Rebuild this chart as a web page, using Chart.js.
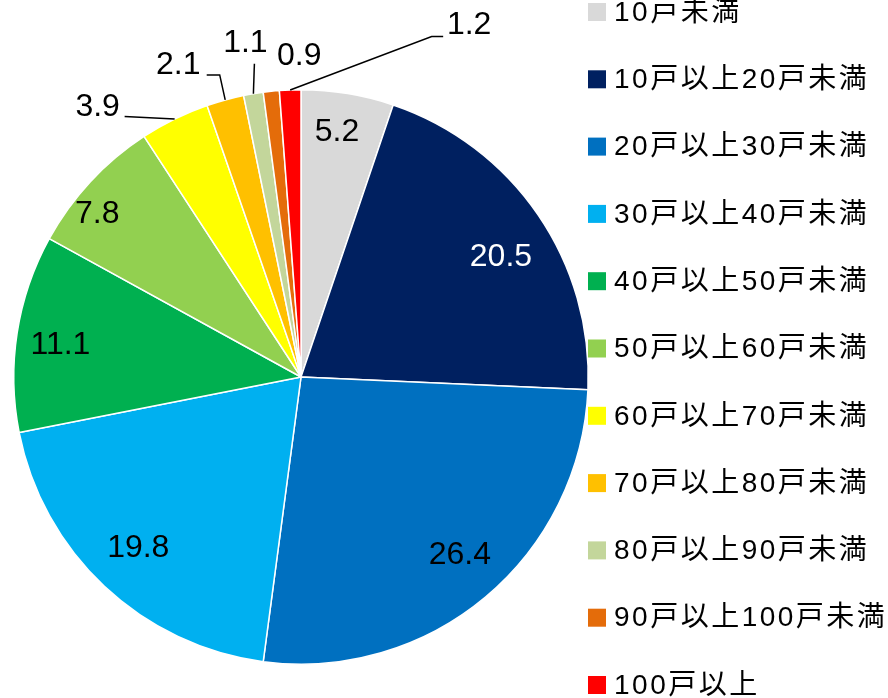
<!DOCTYPE html>
<html>
<head>
<meta charset="utf-8">
<script src="https://cdn.jsdelivr.net/npm/chart.js@4.4.1/dist/chart.umd.min.js"></script>
<style>
  html, body { margin: 0; padding: 0; background: #fff; }
  #wrap { width: 888px; height: 698px; position: relative; }
</style>
</head>
<body>
<div id="wrap"><canvas id="pie-chart"></canvas></div>
<script>
// categories (clockwise from 12 o'clock)
const categories = ['10戸未満', '10戸以上20戸未満', '20戸以上30戸未満', '30戸以上40戸未満', '40戸以上50戸未満',
  '50戸以上60戸未満', '60戸以上70戸未満', '70戸以上80戸未満', '80戸以上90戸未満', '90戸以上100戸未満', '100戸以上'];
// share (%)
const shares = [5.2, 20.5, 26.4, 19.8, 11.1, 7.8, 3.9, 2.1, 1.1, 0.9, 1.2];
const colors = ['#D9D9D9', '#002060', '#0070C0', '#00B0F0', '#00B050', '#92D050',
  '#FFFF00', '#FFC000', '#C3D69B', '#E46C0A', '#FF0000'];
const labelColors = ['#000', '#fff', '#000', '#000', '#000', '#000', '#000', '#000', '#000', '#000', '#000'];

// label placement: inside -> radius factor + angle nudge (deg),
// outside -> offsets from the slice edge point (label centre + leader knees)
const labelLayout = [
  { r: 0.862, da: -1.0 },
  { r: 0.811, da: 3.5 },
  { r: 0.83, da: -1.8 },
  { r: 0.823, da: 0.3 },
  { r: 0.845, da: -1.2 },
  { r: 0.908, da: -4.2 },
  { out: [-77, -12], lead: [[-50, -2.5]] },
  { out: [-47, -35], lead: [[-5.5, -25], [-18.5, -25]] },
  { out: [-8, -51], lead: [[1, -30]] },
  { out: [28, -35], lead: [] },
  { out: [179, -65], lead: [[141.5, -53.5], [153, -53.5]] }
];

const labelFont = '32px "Liberation Sans", Arial, sans-serif';

const sliceLabels = {
  id: 'sliceLabels',
  afterDatasetsDraw(chart) {
    const ctx = chart.ctx;
    const meta = chart.getDatasetMeta(0);
    ctx.save();
    ctx.font = labelFont;
    ctx.textAlign = 'center';
    ctx.textBaseline = 'middle';
    meta.data.forEach((arc, i) => {
      const p = arc.getProps(['x', 'y', 'startAngle', 'endAngle', 'outerRadius'], true);
      const mid = (p.startAngle + p.endAngle) / 2;
      const lay = labelLayout[i];
      const txt = shares[i].toFixed(1);
      if (lay.out) {
        const ex = p.x + Math.cos(mid) * p.outerRadius;
        const ey = p.y + Math.sin(mid) * p.outerRadius;
        if (lay.lead.length) {
          ctx.beginPath();
          ctx.moveTo(ex, ey);
          lay.lead.forEach(k => ctx.lineTo(ex + k[0], ey + k[1]));
          ctx.strokeStyle = '#000';
          ctx.lineWidth = 1.5;
          ctx.stroke();
        }
        ctx.fillStyle = '#000';
        ctx.fillText(txt, ex + lay.out[0], ey + lay.out[1]);
      } else {
        const a = mid + lay.da * Math.PI / 180;
        const rr = p.outerRadius * lay.r;
        ctx.fillStyle = labelColors[i];
        ctx.fillText(txt, p.x + Math.cos(a) * rr, p.y + Math.sin(a) * rr);
      }
    });
    ctx.restore();
  }
};

// legend drawn by hand - 11 rows don't fit the built-in legend at this spacing
const sideLegend = {
  id: 'sideLegend',
  afterDraw(chart) {
    const ctx = chart.ctx;
    const ds = chart.data.datasets[0];
    ctx.save();
    ctx.font = '28px "Liberation Sans", "Noto Sans CJK JP", sans-serif';
    ctx.textAlign = 'left';
    ctx.textBaseline = 'middle';
    if ('letterSpacing' in ctx) ctx.letterSpacing = '2.5px';
    chart.data.labels.forEach((lab, i) => {
      const cy = 12 + i * 67.3;
      ctx.fillStyle = ds.backgroundColor[i];
      ctx.fillRect(588, cy - 9, 18, 18);
      ctx.fillStyle = '#000';
      ctx.fillText(lab, 614, cy + 1);
    });
    ctx.restore();
  }
};

new Chart(document.getElementById('pie-chart'), {
  type: 'pie',
  data: {
    labels: categories,
    datasets: [{
      data: shares,
      backgroundColor: colors,
      borderColor: '#fff',
      borderWidth: 1.5,
      hoverOffset: 0
    }]
  },
  options: {
    responsive: true,
    maintainAspectRatio: false,
    animation: false,
    events: [],
    layout: { padding: { left: 13, right: 299, top: 89, bottom: 33 } },
    plugins: {
      legend: { display: false },
      tooltip: { enabled: false }
    }
  },
  plugins: [sliceLabels, sideLegend]
});
</script>
</body>
</html>
